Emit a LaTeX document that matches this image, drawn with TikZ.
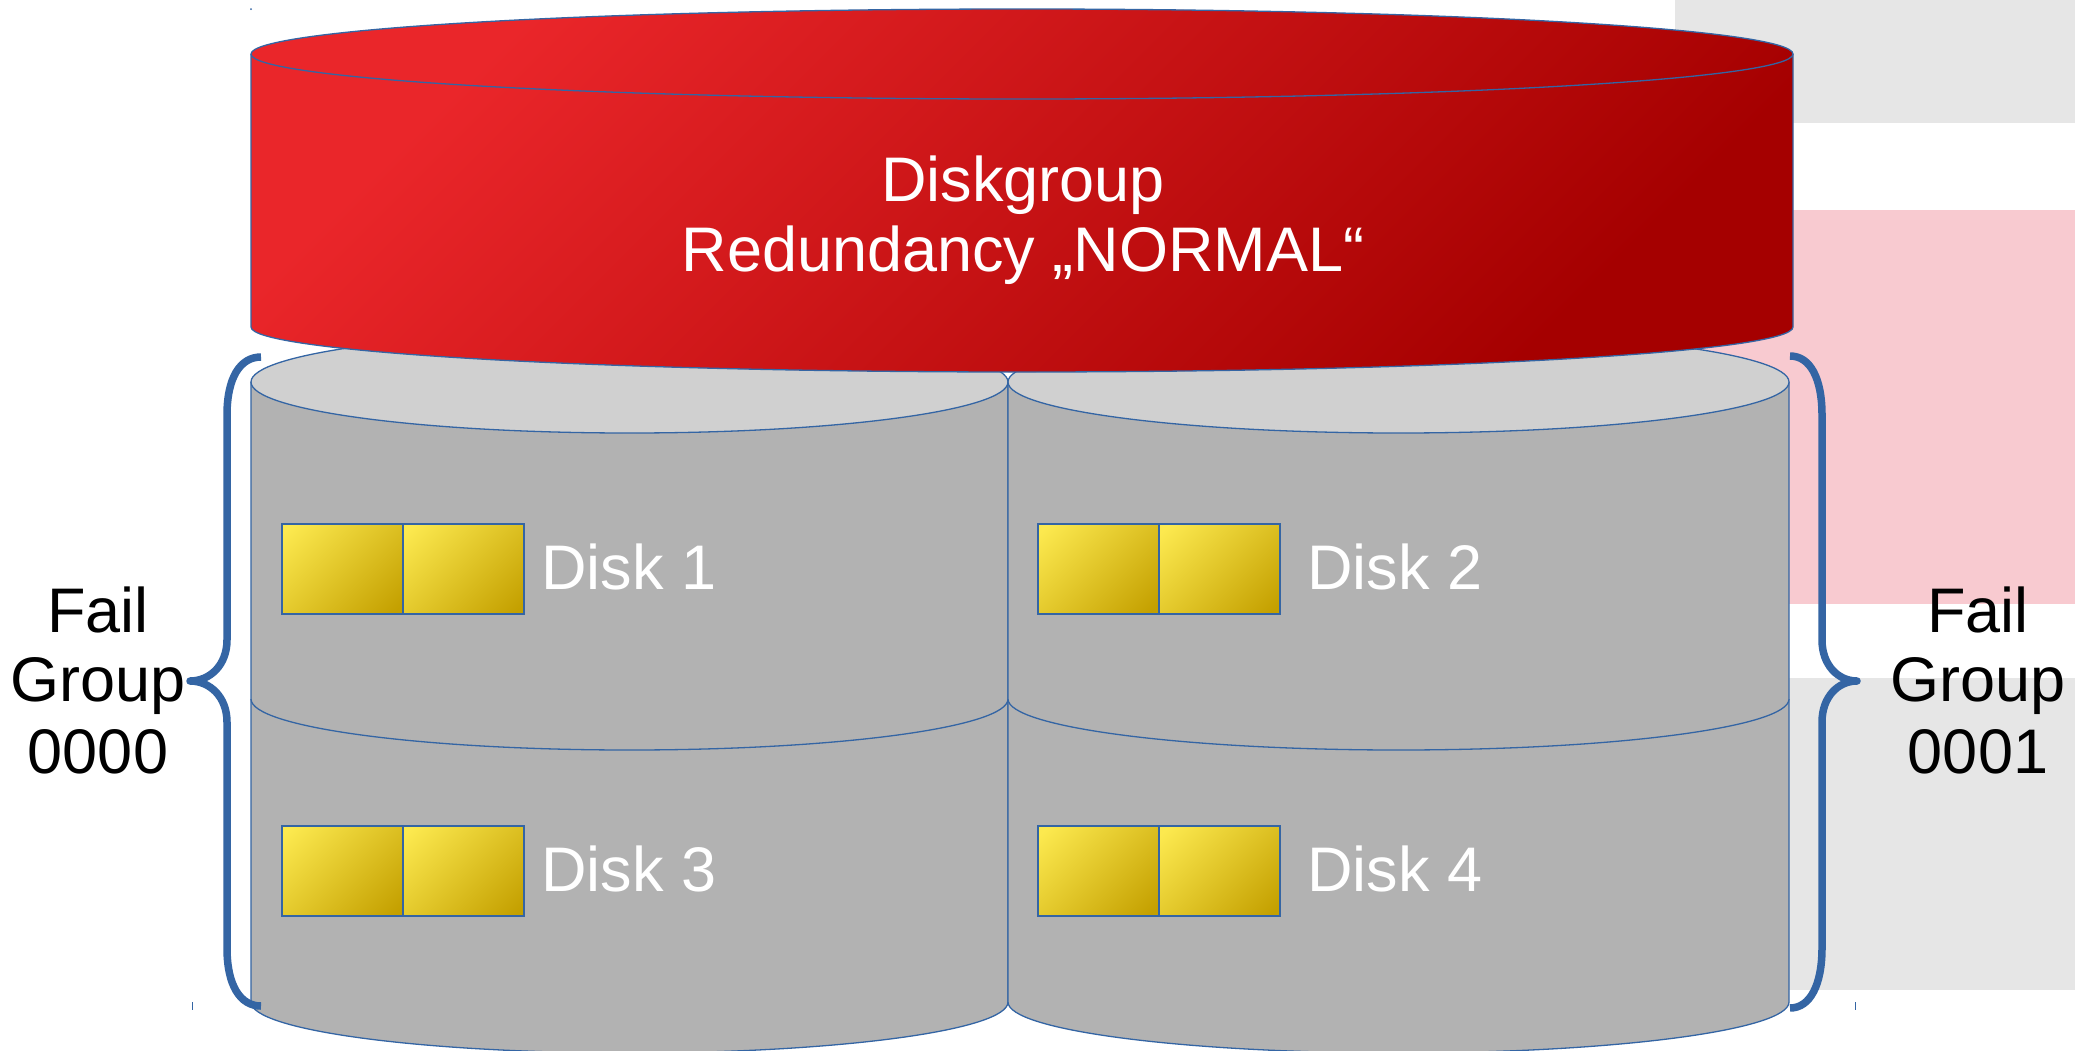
\documentclass[tikz,border=0pt]{standalone}
\usepackage{fontspec}
\setmainfont{Liberation Sans}
\definecolor{outl}{HTML}{3465A4}
\definecolor{redA}{HTML}{EA262A}
\definecolor{redB}{HTML}{A50000}
\definecolor{yelA}{HTML}{FCE94F}
\definecolor{yelB}{HTML}{C4A000}
\definecolor{grBody}{HTML}{B2B2B2}
\definecolor{grTop}{HTML}{D0D0D0}
\definecolor{bgGray}{HTML}{E6E6E6}
\definecolor{bgPink}{HTML}{F8CAD0}
\pgfdeclareverticalshading{ygrad}{100bp}{color(0bp)=(yelB); color(18bp)=(yelB); color(82bp)=(yelA); color(100bp)=(yelA)}
\newcommand{\mycylbody}[5]{% cx, rx, ytop, ybot, ry
  \fill[grBody] ({#1-#2},#3) -- ({#1-#2},#4) arc[start angle=180,end angle=360,x radius=#2,y radius=#5] -- ({#1+#2},#3) -- cycle;
  \draw[thinline] ({#1-#2},#3) -- ({#1-#2},#4) arc[start angle=180,end angle=360,x radius=#2,y radius=#5] -- ({#1+#2},#3);
}
\newcommand{\mycyltop}[4]{% cx, cy, rx, ry
  \filldraw[thinline,fill=grTop] (#1,#2) ellipse[x radius=#3,y radius=#4];
}
\begin{document}
\begin{tikzpicture}[x=1pt,y=1pt,
  thinline/.style={draw=outl,line width=1.3pt},
  brace/.style={draw=outl,line width=7.5pt,line join=round},
  ybox/.style={draw=outl,line width=1.3pt,shade,shading=ygrad,shading angle=45,
    minimum width=121pt,minimum height=90pt,inner sep=0pt,outer sep=0pt,anchor=north west},
  lbl/.style={text=white,inner sep=0pt,font=\fontsize{63}{70}\selectfont},
  blk/.style={text=black,inner sep=0pt,anchor=base,font=\fontsize{63}{70}\selectfont},
  tick/.style={draw=outl,line width=1pt}]
\useasboundingbox (0,0) rectangle (2075,-1050);
\fill[white] (0,0) rectangle (2075,-1050);
% background bands on the right
\fill[bgGray] (1675,0) rectangle (2075,-123);
\fill[bgPink] (1675,-210) rectangle (2075,-604);
\fill[bgGray] (1675,-678) rectangle (2075,-990);
% lower disks
\mycylbody{629.5}{378.5}{-699}{-1002}{51}
\mycylbody{1398.5}{390.5}{-699}{-1002}{51}
% upper disks
\mycylbody{629.5}{378.5}{-382}{-699}{51}
\mycyltop{629.5}{-382}{378.5}{51}
\mycylbody{1398.5}{390.5}{-382}{-699}{51}
\mycyltop{1398.5}{-382}{390.5}{51}
% red diskgroup cylinder
\shade[top color=redA,bottom color=redB,shading angle=45]
  (251,-54) arc[start angle=180,end angle=0,x radius=771,y radius=45]
  -- (1793,-327) arc[start angle=0,end angle=-180,x radius=771,y radius=45] -- cycle;
\draw[thinline] (251,-54) -- (251,-327) arc[start angle=180,end angle=360,x radius=771,y radius=45] -- (1793,-54);
\draw[thinline] (1022,-54) ellipse[x radius=771,y radius=45];
% yellow blocks
\node[ybox] (b1a) at (282,-524) {};
\node[ybox] (b1b) at (b1a.north east) {};
\node[ybox] (b2a) at (1038,-524) {};
\node[ybox] (b2b) at (b2a.north east) {};
\node[ybox] (b3a) at (282,-826) {};
\node[ybox] (b3b) at (b3a.north east) {};
\node[ybox] (b4a) at (1038,-826) {};
\node[ybox] (b4b) at (b4a.north east) {};
% labels
\node[lbl,anchor=base west] (d1) at (541,-589) {Disk 1};
\node[lbl,anchor=base west] (d2) at (1307,-589) {Disk 2};
\node[lbl,anchor=base west] (d3) at (541,-891) {Disk 3};
\node[lbl,anchor=base west] (d4) at (1307,-891) {Disk 4};
\node[lbl,anchor=base] (dg1) at (1023,-201) {Diskgroup};
\node[lbl,anchor=base] (dg2) at (1023,-271) {Redundancy „NORMAL“};
\node[blk] (fl1) at (98,-632) {Fail};
\node[blk] (fl2) at (98,-701) {Group};
\node[blk] (fl3) at (98,-773) {0000};
\node[blk] (fr1) at (1978,-632) {Fail};
\node[blk] (fr2) at (1978,-701) {Group};
\node[blk] (fr3) at (1978,-773) {0001};
% braces
\draw[brace] (261,-357) .. controls (240,-357) and (227,-378) .. (227,-415) -- (227,-640)
  .. controls (227,-665) and (210,-681) .. (190,-681)
  .. controls (210,-681) and (227,-697) .. (227,-722) -- (227,-948)
  .. controls (227,-985) and (240,-1006) .. (261,-1006);
\draw[brace] (1790,-356) .. controls (1810,-356) and (1822,-378) .. (1822,-415) -- (1822,-640)
  .. controls (1822,-665) and (1838,-681) .. (1857,-681)
  .. controls (1838,-681) and (1822,-697) .. (1822,-722) -- (1822,-948)
  .. controls (1822,-985) and (1810,-1008) .. (1790,-1008);
% small stray marks
\draw[tick] (192,-1002) -- (192,-1010);
\draw[tick] (1855,-1002) -- (1855,-1010);
\fill[outl] (251,-9) circle[radius=1];
\end{tikzpicture}
\end{document}
